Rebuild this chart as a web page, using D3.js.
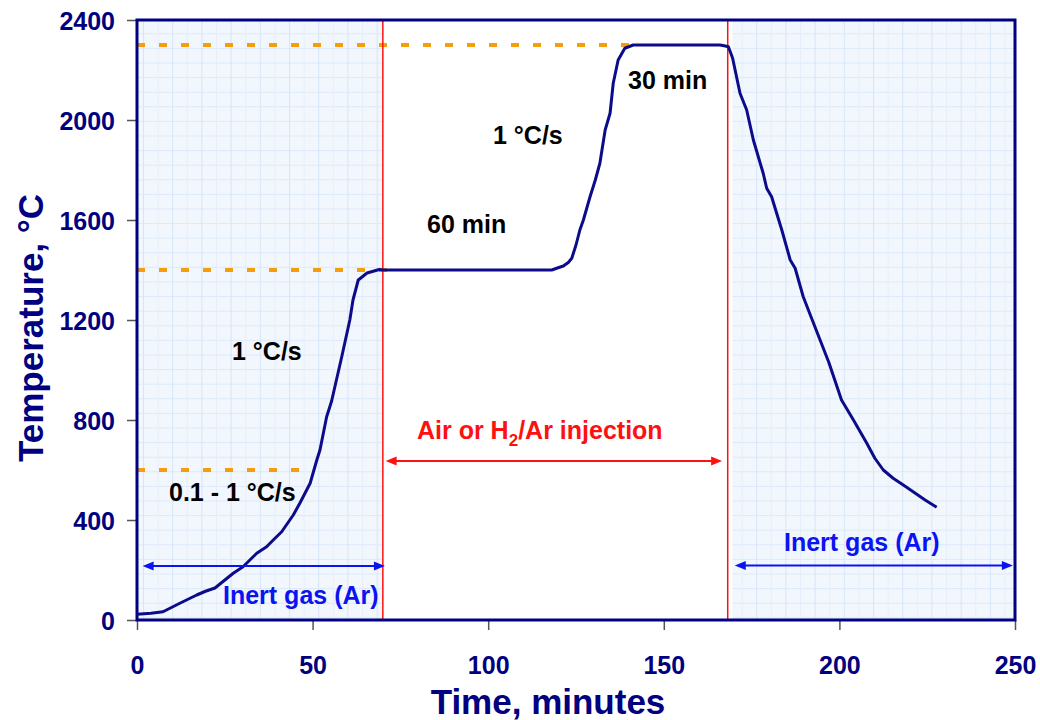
<!DOCTYPE html>
<html>
<head>
	<script src="https://cdn.jsdelivr.net/npm/d3@7"></script>
	<style>
		body { margin: 0; background: #fff; }
		text { font-family: "Liberation Sans", Arial, sans-serif; font-weight: bold; }
	</style>
</head>
<body>
	<script>
		// temperature profile
		var timeMin = [0, 4, 7.4, 12.2, 17, 19.5, 22.2, 27.4, 30.2, 34.1, 36.9, 38.8, 41.2, 44.5, 46.4, 49.3, 51.2, 52.1, 54, 55.4, 58.3, 60.6, 61.5, 63, 65.5, 69, 70,
			118.1, 119.5, 121.4, 122.8, 123.8, 125, 126.1, 127.1, 129, 130.5, 131.8, 133.3, 134.7, 135.6, 137, 138.9, 141.3,
			166, 167.2, 168.4, 169.6, 171.7, 173.6, 175.5, 178.3, 179.3, 180.7, 183.6, 186, 187.4, 189.7, 192, 194.5, 197, 200.6,
			204, 207.8, 210.1, 212.5, 215.3, 218.2, 221, 224.4, 227.7];
		var tempC = [23, 27, 33, 67, 100, 115, 128, 187, 213, 267, 293, 320, 353, 420, 468, 547, 640, 680, 813, 875, 1053, 1200, 1280, 1360, 1388, 1402, 1400,
			1400, 1407, 1416, 1430, 1447, 1500, 1560, 1600, 1693, 1760, 1827, 1960, 2027, 2147, 2240, 2287, 2300,
			2300, 2297, 2293, 2247, 2107, 2040, 1920, 1787, 1727, 1693, 1560, 1440, 1407, 1293, 1210, 1120, 1030, 880,
			800, 707, 647, 600, 567, 540, 513, 480, 451];

		var xTicks = [0, 50, 100, 150, 200, 250];
		var yTicks = [0, 400, 800, 1200, 1600, 2000, 2400];

		// inert gas periods (shaded) and gas switch times
		var inertSpans = [[0, 70], [169.5, 250]];
		var switchTimes = [70, 168.2];

		// orange guide lines: [temperature, end time]
		var guides = [[2300, 140.5], [1400, 71.5], [600, 46.5]];

		var w = 1040, h = 720;
		var pLeft = 137, pRight = 1015, pTop = 20, pBottom = 620;
		var navy = "#000080";

		var x = d3.scaleLinear().domain([0, 250]).range([pLeft, pRight]);
		var y = d3.scaleLinear().domain([0, 2400]).range([pBottom, pTop]);

		var svg = d3.select("body").append("svg")
			.attr("width", w)
			.attr("height", h);

		// fine grid pattern for the shaded zones
		var pat = svg.append("defs").append("pattern")
			.attr("id", "grid")
			.attr("patternUnits", "userSpaceOnUse")
			.attr("x", 143).attr("y", 18.7)
			.attr("width", 29.2).attr("height", 14.6);
		pat.append("rect").attr("width", 29.2).attr("height", 14.6).attr("fill", "#f2f7fd");
		pat.append("line").attr("x1", 0).attr("x2", 29.2).attr("y1", 0.5).attr("y2", 0.5)
			.attr("stroke", "#dce9fa").attr("stroke-width", 1);
		pat.append("line").attr("x1", 0.5).attr("x2", 0.5).attr("y1", 0).attr("y2", 14.6)
			.attr("stroke", "#d6e5f8").attr("stroke-width", 1);
		pat.append("line").attr("x1", 15.1).attr("x2", 15.1).attr("y1", 0).attr("y2", 14.6)
			.attr("stroke", "#e6eff9").attr("stroke-width", 1);

		svg.selectAll(".shade").data(inertSpans).enter().append("rect")
			.attr("class", "shade")
			.attr("x", function(d) { return x(d[0]); })
			.attr("y", pTop)
			.attr("width", function(d) { return x(d[1]) - x(d[0]); })
			.attr("height", pBottom - pTop)
			.attr("fill", "url(#grid)");

		// orange dashed guides
		svg.selectAll(".guide").data(guides).enter().append("line")
			.attr("x1", x(0))
			.attr("x2", function(d) { return x(d[1]); })
			.attr("y1", function(d) { return y(d[0]); })
			.attr("y2", function(d) { return y(d[0]); })
			.attr("stroke", "#f59d0a")
			.attr("stroke-width", 4)
			.attr("stroke-dasharray", "8,14");

		// gas switch lines
		svg.selectAll(".switch").data(switchTimes).enter().append("line")
			.attr("x1", function(d) { return x(d); })
			.attr("x2", function(d) { return x(d); })
			.attr("y1", pTop)
			.attr("y2", pBottom)
			.attr("stroke", "#ff1010")
			.attr("stroke-width", 1.5);

		// axes
		var xAxis = svg.append("g")
			.attr("transform", "translate(0," + pBottom + ")")
			.call(d3.axisBottom(x).tickValues(xTicks).tickFormat(d3.format("d")).tickSize(10).tickPadding(26));
		var yAxis = svg.append("g")
			.attr("transform", "translate(" + pLeft + ",0)")
			.call(d3.axisLeft(y).tickValues(yTicks).tickFormat(d3.format("d")).tickSize(10).tickPadding(12));
		[xAxis, yAxis].forEach(function(a) {
			a.select(".domain").remove();
			a.selectAll(".tick line").attr("stroke", "#555").attr("stroke-width", 1.5);
			a.selectAll(".tick text")
				.attr("fill", navy)
				.style("font-size", "25px")
				.style("font-family", "'Liberation Sans', Arial, sans-serif")
				.style("font-weight", "bold");
		});
		yAxis.selectAll(".tick text").attr("dy", "0.36em");

		// frame
		svg.append("rect")
			.attr("x", pLeft).attr("y", pTop)
			.attr("width", pRight - pLeft).attr("height", pBottom - pTop)
			.attr("fill", "none")
			.attr("stroke", navy)
			.attr("stroke-width", 3);

		// temperature curve
		var pts = timeMin.map(function(t, i) { return [t, tempC[i]]; });
		svg.append("path")
			.datum(pts)
			.attr("d", d3.line()
				.x(function(d) { return x(d[0]); })
				.y(function(d) { return y(d[1]); }))
			.attr("fill", "none")
			.attr("stroke", "#0c0c8a")
			.attr("stroke-width", 3)
			.attr("stroke-linejoin", "round");

		// arrows
		function arrow(x1, x2, yy, col) {
			svg.append("line")
				.attr("x1", x1 + 8).attr("x2", x2 - 8)
				.attr("y1", yy).attr("y2", yy)
				.attr("stroke", col).attr("stroke-width", 2);
			svg.append("path")
				.attr("d", "M" + x1 + "," + yy + "L" + (x1 + 11) + "," + (yy - 4.5) + "L" + (x1 + 11) + "," + (yy + 4.5) + "Z")
				.attr("fill", col);
			svg.append("path")
				.attr("d", "M" + x2 + "," + yy + "L" + (x2 - 11) + "," + (yy - 4.5) + "L" + (x2 - 11) + "," + (yy + 4.5) + "Z")
				.attr("fill", col);
		}
		arrow(x(1.6), x(70.6), 566, "#0a14f0");
		arrow(x(170.2), x(249.4), 565.5, "#0a14f0");
		arrow(x(70.8), x(166.6), 461, "#ff1010");

		// annotations
		var notes = [
			["1 °C/s", 232, 360, "#000"],
			["60 min", 427, 233, "#000"],
			["1 °C/s", 493, 144, "#000"],
			["30 min", 628, 89, "#000"],
			["0.1 - 1 °C/s", 169, 501, "#000"],
			["Inert gas (Ar)", 223, 604, "#0a14f0"],
			["Inert gas (Ar)", 784, 551, "#0a14f0"]
		];
		svg.selectAll(".note").data(notes).enter().append("text")
			.attr("x", function(d) { return d[1]; })
			.attr("y", function(d) { return d[2]; })
			.attr("fill", function(d) { return d[3]; })
			.style("font-size", "25px")
			.text(function(d) { return d[0]; });

		var inj = svg.append("text")
			.attr("x", 417).attr("y", 439)
			.attr("fill", "#ff1010")
			.style("font-size", "25px");
		inj.append("tspan").text("Air or H");
		inj.append("tspan").attr("dy", 7).style("font-size", "17px").text("2");
		inj.append("tspan").attr("dy", -7).text("/Ar injection");

		// axis titles
		svg.append("text")
			.attr("x", 548).attr("y", 714)
			.attr("text-anchor", "middle")
			.attr("fill", navy)
			.style("font-size", "35px")
			.text("Time, minutes");

		svg.append("text")
			.attr("transform", "translate(43,328) rotate(-90)")
			.attr("text-anchor", "middle")
			.attr("fill", navy)
			.style("font-size", "35px")
			.text("Temperature, °C");
	</script>
</body>
</html>
